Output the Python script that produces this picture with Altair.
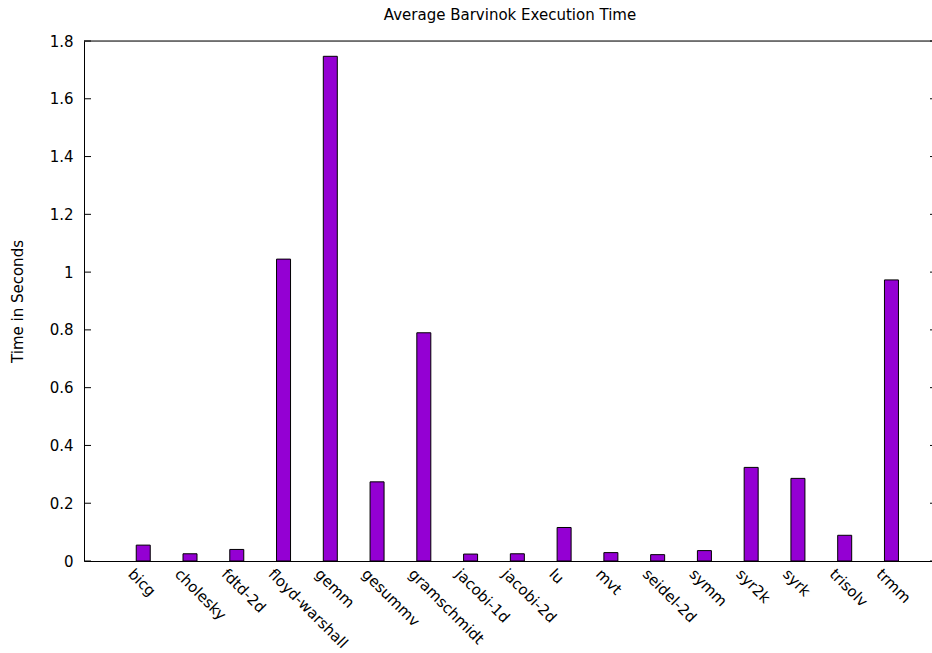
import altair as alt
import pandas as pd

# Benchmarks and their average Barvinok run time (seconds)
kernels = ["bicg", "cholesky", "fdtd-2d", "floyd-warshall", "gemm", "gesummv",
           "gramschmidt", "jacobi-1d", "jacobi-2d", "lu", "mvt", "seidel-2d",
           "symm", "syr2k", "syrk", "trisolv", "trmm"]
seconds = [0.055, 0.025, 0.040, 1.045, 1.747, 0.274, 0.790, 0.024, 0.025,
           0.116, 0.029, 0.022, 0.036, 0.324, 0.286, 0.089, 0.973]
y_ticks = [0, 0.2, 0.4, 0.6, 0.8, 1, 1.2, 1.4, 1.6, 1.8]
chart_title = "Average Barvinok Execution Time"

FONT = "DejaVu Sans"
W, H = 848, 520

df = pd.DataFrame({"idx": list(range(len(kernels))), "kernel": kernels, "t": seconds})
ticks_df = pd.DataFrame({"v": y_ticks})

label_expr = "[" + ",".join("'" + k + "'" for k in kernels) + "][datum.value]"

x_scale = alt.Scale(domain=[-1.16, 16.76], nice=False, zero=False)
y_scale = alt.Scale(domain=[0, 1.8], nice=False)

bars = alt.Chart(df).mark_bar(
    size=14, color="#9400D3", stroke="black", strokeWidth=1
).encode(
    x=alt.X("idx:Q", scale=x_scale,
            axis=alt.Axis(values=list(range(len(kernels))), labelExpr=label_expr,
                          title=None, grid=False, ticks=False, tickSize=0,
                          labelAngle=45, labelAlign="left", labelBaseline="top",
                          labelPadding=5, labelOffset=-8, labelFontSize=15,
                          labelFont=FONT, labelColor="black", domainColor="black",
                          labelOverlap=False, labelBound=False)),
    y=alt.Y("t:Q", scale=y_scale,
            axis=alt.Axis(values=y_ticks, format="~g", title="Time in Seconds",
                          grid=False, ticks=False, tickSize=0, labelPadding=11,
                          labelFontSize=15, labelFont=FONT, labelColor="black",
                          domainColor="black", titleFont=FONT, titleFontSize=15,
                          titleFontWeight="normal", titleColor="black",
                          titleX=-67, titleY=H / 2, titleAngle=270,
                          titleAlign="center", titleBaseline="middle")),
)

# inward tick marks on the left and right edges of the frame
left_ticks = alt.Chart(ticks_df).mark_rule(color="black", strokeWidth=1).encode(
    y=alt.Y("v:Q", scale=y_scale),
    x=alt.value(0), x2=alt.value(7),
)
right_ticks = alt.Chart(ticks_df).mark_rule(color="black", strokeWidth=1).encode(
    y=alt.Y("v:Q", scale=y_scale),
    x=alt.value(W - 2), x2=alt.value(W),
)
# top edge of the frame
top_edge = alt.Chart(pd.DataFrame({"a": [0]})).mark_rule(color="black", strokeWidth=1).encode(
    x=alt.value(0), x2=alt.value(W), y=alt.value(0)
)
# chart heading above the frame
heading = alt.Chart(pd.DataFrame({"label": [chart_title]})).mark_text(
    font=FONT, fontSize=15, color="black", align="center", baseline="alphabetic"
).encode(
    text="label:N", x=alt.value(W / 2 + 2), y=alt.value(-21)
)

chart = alt.layer(bars, left_ticks, right_ticks, top_edge, heading).properties(
    width=W, height=H,
    autosize=alt.AutoSizeParams(type="none"),
    padding={"left": 84, "top": 41, "right": 0, "bottom": 92},
).configure_view(stroke=None).configure(background="white")

chart.save("out.html", embed_options={"renderer": "svg", "actions": False})
